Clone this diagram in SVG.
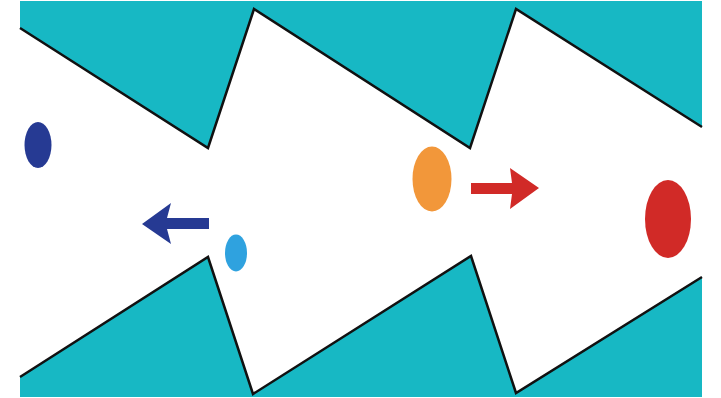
<svg xmlns="http://www.w3.org/2000/svg" width="721" height="398" viewBox="0 0 721 398">
  <style>
    .teal { fill: #17B8C4; }
    .wall { fill: none; stroke: #111111; stroke-width: 2.5; stroke-linejoin: miter; }
  </style>
  <rect x="0" y="0" width="721" height="398" fill="#FFFFFF"/>
  <g id="background">
    <rect class="teal" x="20" y="1" width="682" height="396"/>
  </g>
  <g id="channel">
    <polygon fill="#FFFFFF" points="20,28 208,148 254,9 470,148 516,9 702,127 702,277 516,393 471,256 253,394 208,257 20,377"/>
    <polyline class="wall" points="20,28 208,148 254,9 470,148 516,9 702,127"/>
    <polyline class="wall" points="20,377 208,257 253,394 471,256 516,393 702,277"/>
  </g>
  <g id="particle-dark-blue">
    <ellipse cx="38" cy="145" rx="13.5" ry="23" fill="#263A93"/>
  </g>
  <g id="particle-light-blue">
    <ellipse cx="236" cy="253" rx="11" ry="18.5" fill="#2FA2DF"/>
  </g>
  <g id="particle-orange">
    <ellipse cx="432" cy="179" rx="19.5" ry="32.5" fill="#F2973A"/>
  </g>
  <g id="particle-red">
    <ellipse cx="668" cy="219" rx="23" ry="39" fill="#D12A27"/>
  </g>
  <g id="connectors">
    <polygon fill="#263A93" points="142,224 171,203 167,218 209,218 209,229 167,229 171,244"/>
    <polygon fill="#D12A27" points="539,188 510,168 512,183 471,183 471,194 512,194 510,209"/>
  </g>
</svg>
